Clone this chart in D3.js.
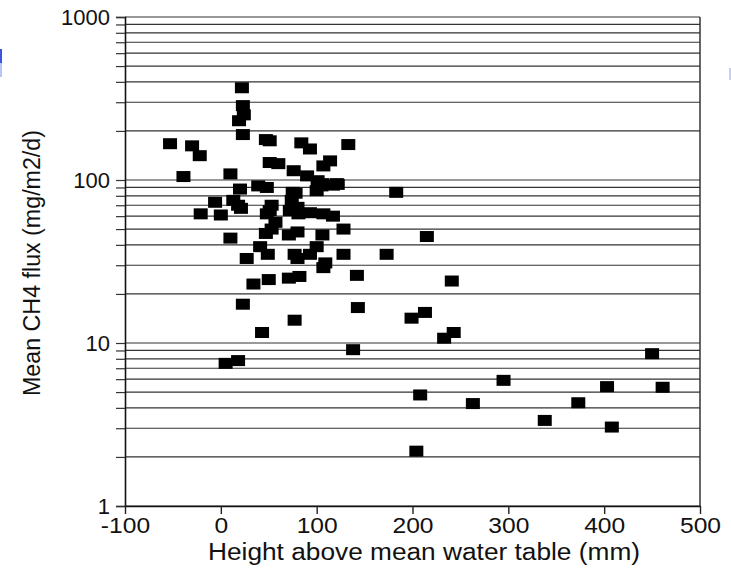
<!DOCTYPE html>
<html>
<head>
<meta charset="utf-8">
<script src="https://cdnjs.cloudflare.com/ajax/libs/d3/7.8.5/d3.min.js" type="text/javascript"></script>
<style>
body { margin: 0; background: #fff; }
text { font-family: "Liberation Sans", Arial, Helvetica, sans-serif; fill: #111; }
</style>
</head>
<body>
<div id="chart"></div>
<script type="text/javascript">
// height above mean water table (mm) and mean CH4 flux (mg/m2/d), one entry per plot
var heightMm = [22, 23, 24, 19, 23, -53, -30, -22, -39, 10, 20, 47, 51, 84, 93, 133, 51, 60, 114, 107,
	76, 90, 101, 117, 122, 183, 39, 48, 78, 100, -6, -21, 0, 13, 18, 21, 10, 27, 34, 50,
	71, 82, 23, 43, 77, 138, 143, 199, 5, 18, 142, 128, 173, 128, 107, 109, 106, 100, 93, 80,
	77, 71, 80, 49, 41, 47, 53, 57, 51, 53, 48, 74, 80, 81, 93, 107, 117, 106, 121, 215,
	241, 213, 243, 233, 450, 295, 403, 461, 208, 263, 373, 338, 408, 204, 72, 105, 75];
var ch4Flux = [368, 286, 251, 231, 190, 167, 162, 141, 105, 109, 88, 177, 174, 169, 155, 165, 128, 126, 131, 122,
	114, 106, 99, 93, 94, 84, 92, 90, 83, 86, 73, 62, 61, 75, 70, 67, 44, 33, 23, 24.5,
	25, 25.6, 17.3, 11.6, 13.8, 9.1, 16.5, 14.2, 7.5, 7.8, 26, 35, 35, 50, 29, 31, 46, 39, 35, 33,
	35, 46, 48, 35, 39, 47, 50, 55, 65, 70, 62, 75, 68, 62, 63, 62, 60, 95, 95, 45,
	24, 15.4, 11.6, 10.7, 8.6, 5.9, 5.4, 5.35, 4.8, 4.25, 4.3, 3.35, 3.05, 2.17, 65, 92, 84];

var xTicks = [-100, 0, 100, 200, 300, 400, 500];
var yLabelTicks = [1, 10, 100, 1000];
var yGrid = [1, 2, 3, 4, 5, 6, 7, 8, 9, 10, 20, 30, 40, 50, 60, 70, 80, 90,
	100, 200, 300, 400, 500, 600, 700, 800, 900, 1000];

var xTitle = "Height above mean water table (mm)";
var yTitle = "Mean CH4 flux (mg/m2/d)";

var W = 731, H = 568;
var plotLeft = 125, plotRight = 700, plotTop = 17, plotBottom = 506;

var svg = d3.select("#chart").append("svg")
	.attr("width", W)
	.attr("height", H);

var x = d3.scaleLinear().domain([-100, 500]).range([plotLeft, plotRight]);
var y = d3.scaleLog().domain([1, 1000]).range([plotBottom, plotTop]);

// horizontal grid at every log step
svg.append("g")
	.selectAll("line")
	.data(yGrid)
	.enter()
	.append("line")
		.attr("x1", plotLeft)
		.attr("x2", plotRight)
		.attr("y1", function(d) { return y(d); })
		.attr("y2", function(d) { return y(d); })
		.attr("stroke", "#333")
		.attr("stroke-width", 1.2);

// y axis
var yAxis = svg.append("g")
	.attr("transform", "translate(" + plotLeft + ",0)")
	.call(d3.axisLeft(y)
		.tickValues(yGrid)
		.tickSize(9)
		.tickPadding(6)
		.tickFormat(function(d) { return yLabelTicks.indexOf(d) >= 0 ? d : ""; }));
yAxis.select(".domain").attr("stroke", "#111").attr("stroke-width", 1.6);
yAxis.selectAll(".tick line").attr("stroke", "#333").attr("stroke-width", 1.2);
yAxis.selectAll("text")
	.style("font-size", "22px")
	.attr("fill", "#111");

// x axis
var xAxis = svg.append("g")
	.attr("transform", "translate(0," + plotBottom + ")")
	.call(d3.axisBottom(x)
		.tickValues(xTicks)
		.tickSize(8)
		.tickPadding(3)
		.tickSizeOuter(0)
		.tickFormat(function(d) { return d < 0 ? "-" + Math.abs(d) : d; }));
xAxis.select(".domain").attr("stroke", "#111").attr("stroke-width", 1.6);
xAxis.selectAll(".tick line").attr("stroke", "#222").attr("stroke-width", 1.4);
xAxis.selectAll("text")
	.style("font-size", "22px")
	.attr("fill", "#111")
	.attr("transform", "scale(1.12,1)");

// right frame
svg.append("line")
	.attr("x1", plotRight).attr("x2", plotRight)
	.attr("y1", plotTop).attr("y2", plotBottom)
	.attr("stroke", "#333")
	.attr("stroke-width", 1.5);

// points
svg.append("g")
	.selectAll("rect")
	.data(heightMm.map(function(h, i) { return { h: h, f: ch4Flux[i] }; }))
	.enter()
	.append("rect")
		.attr("x", function(d) { return x(d.h) - 7; })
		.attr("y", function(d) { return y(d.f) - 5.5; })
		.attr("width", 14)
		.attr("height", 11)
		.attr("fill", "#000");

// axis titles
svg.append("text")
	.attr("x", 424)
	.attr("y", 560)
	.attr("text-anchor", "middle")
	.attr("textLength", 432)
	.attr("lengthAdjust", "spacingAndGlyphs")
	.style("font-size", "23px")
	.text(xTitle);

svg.append("text")
	.attr("transform", "translate(40,263) rotate(-90)")
	.attr("text-anchor", "middle")
	.attr("textLength", 266)
	.attr("lengthAdjust", "spacingAndGlyphs")
	.style("font-size", "23px")
	.text(yTitle);

// scan marks at the page edges
svg.append("rect").attr("x", 0).attr("y", 49).attr("width", 2).attr("height", 14).attr("fill", "#3a55e6");
svg.append("rect").attr("x", 0).attr("y", 63).attr("width", 2).attr("height", 14).attr("fill", "#b8c4f4");
svg.append("rect").attr("x", 729).attr("y", 68).attr("width", 2).attr("height", 12).attr("fill", "#c8d0f6");
</script>
</body>
</html>
